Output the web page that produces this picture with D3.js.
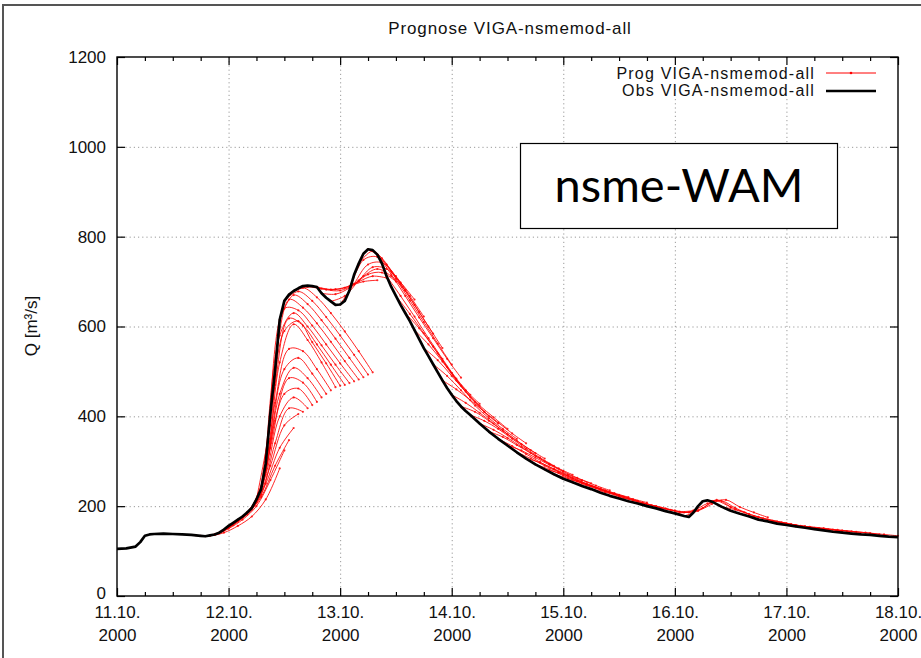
<!DOCTYPE html>
<html><head><meta charset="utf-8">
<script src="https://cdn.jsdelivr.net/npm/d3@7"></script>
<style>body{margin:0;background:#fff}svg{display:block}</style>
</head><body>
<svg id="c" width="921" height="658"></svg>
<script>
// ---------- data ----------
const titleText = "Prognose VIGA-nsmemod-all";
const legendProg = "Prog VIGA-nsmemod-all";
const legendObs = "Obs VIGA-nsmemod-all";
const boxLabel = "nsme-WAM";
const yLabel = "Q [m³/s]";
const yTicks = [0, 200, 400, 600, 800, 1000, 1200];
const xTickHours = [0, 24, 48, 72, 96, 120, 144, 168];
const xTickLabels = ["11.10.", "12.10.", "13.10.", "14.10.", "15.10.", "16.10.", "17.10.", "18.10."];
const xTickYear = "2000";
const xMinorHours = [6,12,18,30,36,42,54,60,66,78,84,90,102,108,114,126,132,138,150,156,162];

// observed discharge: hours since 11.10.2000 00:00, Q
const obsHours = [0,2,4,5,6,7,8,10,12,14,16,18,19,20,21,22,23,24,25,26,27,28,29,30,31,32,33,34,35,36,37,38,39,40,41,42,43,44,45,46,47,48,49,50,51,52,53,54,55,56,57,58,59,60,61,62,63,64,65,66,67,68,69,70,71,72,73,74,75,76,78,80,82,84,86,88,90,92,94,96,98,100,102,104,106,108,110,112,114,116,118,120,122,123,124,125,126,127,128,130,132,134,136,138,140,142,144,146,148,150,152,154,156,158,160,162,164,166,168];
const obsQ = [105,106,110,120,134,137,138,139,138,137,136,134,133,135,137,141,148,156,163,170,177,186,196,215,238,295,408,502,615,657,671,679,685,690,691,690,688,674,664,656,648,649,657,680,715,740,762,772,770,760,740,712,688,668,648,630,612,592,572,552,534,516,498,480,463,448,434,422,412,403,384,366,350,335,320,306,293,282,271,261,253,245,238,230,223,217,211,206,200,195,189,184,178,176,186,200,211,213,210,199,190,183,177,170,166,161,158,155,152,149,146,143,141,139,137,136,134,132,131];

// forecasts: issue hour and values every fcStep hours
const fcStep = 3;
const fcStart = [17,18,19,20,21,22,23,24,25,26,27,28,29,30,31,32,33,34,35,36,37,
                 38,40,42,44,46,48,50,52,54,56,
                 58,60,62,64,66,68,70,72,74,76,78,80,82,84,86,88,90,92,94,96,98,
                 102,106,110,114,118,122,126,130,134,138,142,146,150];
const fcQ = [
 [135,134,141,156,177,215,284],
 [134,136,150,170,200,258,324],
 [133,140,158,182,220,290,347],
 [135,146,166,192,250,330,374],
 [137,153,175,208,290,380,405],
 [141,160,186,225,340,418,410],
 [148,168,196,270,400,442,418],
 [156,176,212,330,450,462,425],
 [163,186,235,390,485,475,432],
 [170,196,280,450,508,485,442],
 [177,214,350,505,530,495,450],
 [186,238,430,550,545,505,458],
 [196,280,520,605,570,520,465],
 [215,380,590,612,565,518,468],
 [238,470,618,602,560,515,470],
 [295,580,630,600,558,515,474],
 [408,640,636,602,560,518,478],
 [502,660,642,607,566,523,482],
 [615,670,650,614,573,530,487],
 [657,678,657,621,580,537,493],
 [671,686,665,630,589,545,498],
 [679,688,684,683,690,700,703],
 [690,688,682,686,700,712,708],
 [690,682,680,694,716,720,700],
 [674,672,686,712,728,712,680],
 [656,668,702,732,728,698,660],
 [649,695,738,742,712,668,622],
 [680,748,755,722,680,632,584],
 [740,768,738,695,648,600,552],
 [772,752,706,658,610,562,515],
 [760,716,668,620,574,528,486],
 [712,668,622,574,528,484,448],
 [668,628,585,540,496,458,428],
 [630,596,555,510,468,432,400],
 [592,560,522,480,442,410,384],
 [552,525,490,455,424,398,372],
 [516,490,458,424,396,372,350],
 [480,460,436,410,386,362,340],
 [448,430,408,384,360,338,318],
 [422,410,390,368,346,325,306],
 [403,390,372,350,328,308,290],
 [384,370,352,332,312,294,278],
 [366,354,336,318,300,284,270],
 [350,334,316,298,282,268,256],
 [335,324,308,292,277,263,251],
 [320,306,290,276,262,250,239],
 [306,297,283,270,258,246,235],
 [293,282,268,256,245,234,224],
 [282,274,262,250,239,229,220],
 [271,262,251,240,230,221,212],
 [261,255,245,235,225,216,208],
 [253,246,236,226,217,208,200],
 [238,231,222,213,205,197,190],
 [223,218,210,202,195,188,190],
 [211,206,199,192,186,190,205],
 [200,195,190,186,196,214,198],
 [189,185,190,206,212,196,182],
 [178,190,208,214,198,186,175],
 [211,212,198,186,176,168,162],
 [199,192,182,173,166,160,155],
 [183,177,170,164,158,153,149],
 [170,166,161,156,152,148,144],
 [161,159,155,151,148,144,140],
 [155,154,151,147,144,141,137],
 [149,148,146,143,140,137,134]
];

// ---------- drawing ----------
const FONT = "'Liberation Sans', Arial, Helvetica, sans-serif";
const M = {l:117, r:898, t:57, b:596};
const x = d3.scaleLinear().domain([0,168]).range([M.l, M.r]);
const y = d3.scaleLinear().domain([0,1200]).range([M.b, M.t]);
const svg = d3.select('#c');

svg.append('rect').attr('width',921).attr('height',658).attr('fill','#fff');
// outer border of the slide picture
svg.append('rect').attr('x',3).attr('y',5).attr('width',960).attr('height',700)
  .attr('fill','none').attr('stroke','#555').attr('stroke-width',2);

// title
svg.append('text').attr('x',510).attr('y',34).attr('text-anchor','middle')
  .attr('font-family',FONT).attr('font-size',17).attr('letter-spacing',0.9)
  .attr('fill','#111').text(titleText);

// grid
const grid = svg.append('g').attr('stroke','#9a9a9a').attr('stroke-width',1).attr('stroke-dasharray','1.2,3');
grid.selectAll('.gx').data(xTickHours.slice(1,-1)).join('line')
  .attr('x1',d=>x(d)+0.5).attr('x2',d=>x(d)+0.5).attr('y1',M.t).attr('y2',M.b);
grid.selectAll('.gy').data(yTicks.slice(1,-1)).join('line')
  .attr('x1',M.l).attr('x2',M.r).attr('y1',d=>y(d)+0.5).attr('y2',d=>y(d)+0.5);

// legend background (hides grid under key)
svg.append('rect').attr('x',600).attr('y',M.t+1).attr('width',M.r-601).attr('height',40).attr('fill','#fff');

// forecasts
const fcLine = d3.line().x(d=>x(d[0])).y(d=>y(d[1])).curve(d3.curveCatmullRom.alpha(0.5));
const fcData = fcQ.map((vals,i)=>vals.map((q,j)=>[fcStart[i]+j*fcStep, q]));
const fg = svg.append('g');
fg.selectAll('path').data(fcData).join('path')
  .attr('d',fcLine).attr('fill','none').attr('stroke','#ff0000').attr('stroke-width',1).attr('stroke-opacity',0.85);
fg.selectAll('g').data(fcData).join('g').selectAll('circle').data(d=>d).join('circle')
  .attr('cx',d=>x(d[0])).attr('cy',d=>y(d[1])).attr('r',1.1).attr('fill','#ff0000').attr('fill-opacity',0.8);

// observations
const obsData = obsHours.map((h,i)=>[h, obsQ[i]]);
svg.append('path').datum(obsData)
  .attr('d', d3.line().x(d=>x(d[0])).y(d=>y(d[1])))
  .attr('fill','none').attr('stroke','#000').attr('stroke-width',2.7).attr('stroke-linejoin','round');

// frame
svg.append('rect').attr('x',M.l).attr('y',M.t).attr('width',M.r-M.l).attr('height',M.b-M.t)
  .attr('fill','none').attr('stroke','#000').attr('stroke-width',1.4);

function styleAxis(g){
  g.select('.domain').remove();
  g.selectAll('line').attr('stroke','#000').attr('stroke-width',1.2);
  g.selectAll('text').attr('font-family',FONT).attr('font-size',17).attr('fill','#111');
}
// bottom axis
const gb = svg.append('g').attr('transform',`translate(0,${M.b})`)
  .call(d3.axisBottom(x).tickValues(xTickHours).tickSizeInner(-8).tickSizeOuter(0).tickPadding(10)
        .tickFormat((d,i)=>xTickLabels[i]));
styleAxis(gb);
gb.selectAll('text').each(function(d,i){
  const t = d3.select(this); t.text(null);
  t.append('tspan').attr('x',0).text(xTickLabels[i]);
  t.append('tspan').attr('x',0).attr('dy','1.32em').text(xTickYear);
});
svg.append('g').attr('transform',`translate(0,${M.b})`)
  .call(d3.axisBottom(x).tickValues(xMinorHours).tickSizeInner(-4).tickSizeOuter(0).tickFormat(''))
  .call(styleAxis);
// top axis (mirror)
svg.append('g').attr('transform',`translate(0,${M.t})`)
  .call(d3.axisTop(x).tickValues(xTickHours).tickSizeInner(-8).tickSizeOuter(0).tickFormat(''))
  .call(styleAxis);
svg.append('g').attr('transform',`translate(0,${M.t})`)
  .call(d3.axisTop(x).tickValues(xMinorHours).tickSizeInner(-4).tickSizeOuter(0).tickFormat(''))
  .call(styleAxis);
// left axis
const gl = svg.append('g').attr('transform',`translate(${M.l},0)`)
  .call(d3.axisLeft(y).tickValues(yTicks).tickSizeInner(-8).tickSizeOuter(0).tickPadding(11).tickFormat(d3.format('d')))
  .call(styleAxis);
gl.selectAll('text').filter(d=>d===0).attr('y',-3);
// right axis (mirror)
svg.append('g').attr('transform',`translate(${M.r},0)`)
  .call(d3.axisRight(y).tickValues(yTicks).tickSizeInner(-8).tickSizeOuter(0).tickFormat(''))
  .call(styleAxis);

// y label
svg.append('text').attr('transform','translate(37,326) rotate(-90)').attr('text-anchor','middle')
  .attr('font-family',FONT).attr('font-size',17).attr('fill','#111').text(yLabel);

// legend
const lg = svg.append('g').attr('font-family',FONT).attr('font-size',16).attr('fill','#111');
lg.append('text').attr('x',815).attr('y',79).attr('text-anchor','end').attr('letter-spacing',1.2).text(legendProg);
lg.append('text').attr('x',815).attr('y',96).attr('text-anchor','end').attr('letter-spacing',1.2).text(legendObs);
lg.append('line').attr('x1',826).attr('x2',876).attr('y1',73).attr('y2',73).attr('stroke','#ff0000').attr('stroke-width',1);
lg.append('circle').attr('cx',851).attr('cy',73).attr('r',1.3).attr('fill','#ff0000');
lg.append('line').attr('x1',826).attr('x2',876).attr('y1',91).attr('y2',91).attr('stroke','#000').attr('stroke-width',2.6);

// nsme-WAM text box
svg.append('rect').attr('x',520.5).attr('y',143.5).attr('width',317).attr('height',85)
  .attr('fill','#fff').attr('stroke','#000').attr('stroke-width',1.2);
svg.append('text').attr('x',679).attr('y',202).attr('text-anchor','middle')
  .attr('font-family',"Lato, 'Open Sans', sans-serif").attr('font-size',47).attr('fill','#000').text(boxLabel);
</script>
</body></html>
